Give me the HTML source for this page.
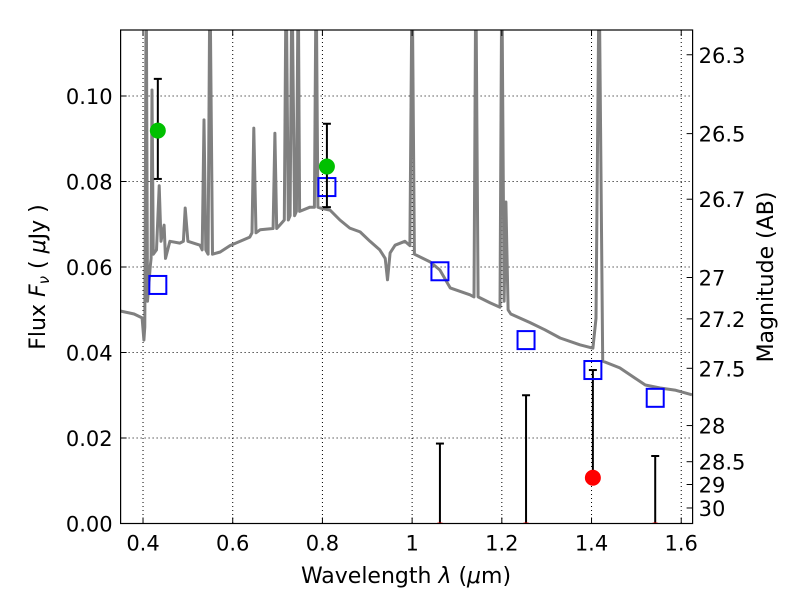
<!DOCTYPE html>
<html><head><meta charset="utf-8"><style>
html,body{margin:0;padding:0;background:#fff;}
svg text{font-family:"DejaVu Sans","Liberation Sans",sans-serif;fill:#000;}
</style></head><body>
<svg id="chart" width="800" height="600" xmlns="http://www.w3.org/2000/svg">
<rect x="0" y="0" width="800" height="600" fill="#fff"/>
<g id="grid"></g>
<g id="marks"></g>
<rect x="120.6" y="30" width="572" height="493.5" fill="none" stroke="#000" stroke-width="1.2"/>
<g id="axes"></g>
<text x="406" y="583" font-size="22" text-anchor="middle">Wavelength  <tspan font-style="italic">λ</tspan> (<tspan font-style="italic">μ</tspan>m)</text>
<text transform="translate(45,277) rotate(-90)" font-size="22" text-anchor="middle">Flux  <tspan font-style="italic">F</tspan><tspan font-style="italic" font-size="15" dy="4">ν</tspan><tspan dy="-4">  (  </tspan><tspan font-style="italic">μ</tspan>Jy )</text>
<text transform="translate(773,277) rotate(-90)" font-size="22" text-anchor="middle">Magnitude (AB)</text>
</svg>
<script>
const specWave=[0.349,0.38,0.398,0.402,0.404,0.407,0.410,0.416,0.418,0.420,0.423,0.430,0.436,0.440,0.447,0.450,0.46,0.482,0.490,0.494,0.50,0.527,0.532,0.536,0.540,0.545,0.549,0.555,0.572,0.594,0.638,0.643,0.647,0.652,0.661,0.690,0.694,0.698,0.705,0.715,0.719,0.724,0.728,0.732,0.738,0.742,0.746,0.749,0.772,0.782,0.786,0.79,0.795,0.817,0.839,0.861,0.884,0.906,0.928,0.94,0.945,0.951,0.962,0.984,0.995,1.000,1.005,1.040,1.062,1.085,1.129,1.138,1.142,1.147,1.174,1.196,1.200,1.205,1.209,1.214,1.22,1.263,1.296,1.33,1.374,1.403,1.41,1.417,1.425,1.463,1.497,1.52,1.553,1.586,1.624];
const specFlux=[0.0497,0.049,0.0481,0.0429,0.046,0.13,0.052,0.06,0.062,0.1014,0.063,0.064,0.079,0.066,0.0698,0.062,0.066,0.0656,0.066,0.0738,0.066,0.0651,0.064,0.0944,0.064,0.063,0.13,0.063,0.0635,0.065,0.067,0.068,0.0925,0.068,0.0687,0.069,0.0913,0.069,0.0698,0.071,0.13,0.071,0.072,0.13,0.072,0.073,0.13,0.073,0.074,0.074,0.13,0.074,0.0738,0.0733,0.071,0.0691,0.0682,0.066,0.064,0.062,0.057,0.0633,0.0651,0.066,0.065,0.13,0.063,0.0612,0.0593,0.0551,0.0535,0.053,0.13,0.053,0.0516,0.0506,0.13,0.052,0.0752,0.05,0.049,0.047,0.0453,0.0434,0.0418,0.041,0.048,0.13,0.038,0.0364,0.034,0.0324,0.0317,0.0312,0.0301];
const detWave=[0.433,0.810];
const detFlux=[0.0919,0.0835];
const detErrLo=[0.0806,0.074];
const detErrHi=[0.104,0.0935];
const modelWave=[0.433,0.810,1.062,1.254,1.403,1.542];
const modelFlux=[0.0558,0.0787,0.059,0.0429,0.0359,0.0294];
const limWave=[1.062,1.254,1.403,1.542];
const limFlux=[-0.0016,-0.0016,0.0107,-0.0016];
const limTop=[0.0187,0.030,0.0359,0.0158];
const xTicks=[0.4,0.6,0.8,1.0,1.2,1.4,1.6];
const xTickLabels=["0.4","0.6","0.8","1","1.2","1.4","1.6"];
const yTicks=[0,0.02,0.04,0.06,0.08,0.10];
const yTickLabels=["0.00","0.02","0.04","0.06","0.08","0.10"];
const magTicks=[26.3,26.5,26.7,27,27.2,27.5,28,28.5,29,30];

const X0=120.6,XMIN=0.35,XS=448.5,Y0=523.5,YS=4275,YTOP=30,XR=692.6;
const sx=v=>X0+(v-XMIN)*XS;
const sy=v=>Y0-v*YS;
const NS="http://www.w3.org/2000/svg";
function mk(tag,attrs,parent){const e=document.createElementNS(NS,tag);for(const k in attrs)e.setAttribute(k,attrs[k]);parent.appendChild(e);return e;}
const grid=document.getElementById('grid'),marks=document.getElementById('marks'),axes=document.getElementById('axes');

xTicks.forEach((t,i)=>{
  const x=sx(t);
  const g=mk('line',{x1:x,x2:x,y1:YTOP,y2:Y0,stroke:'#000','stroke-width':1,'stroke-dasharray':'1,3'},grid);
  
  
  mk('line',{x1:x,x2:x,y1:Y0,y2:Y0-6,stroke:'#000'},axes);
  mk('line',{x1:x,x2:x,y1:YTOP,y2:YTOP+6,stroke:'#000'},axes);
  const tx=mk('text',{x:x,y:Y0+27,'font-size':21,'text-anchor':'middle'},axes);
  tx.textContent=xTickLabels[i];
  
  
});
yTicks.forEach((t,i)=>{
  const y=sy(t);
  const g=mk('line',{x1:X0,x2:XR,y1:y,y2:y,stroke:'#000','stroke-width':1,'stroke-dasharray':'1,3'},grid);
  
  
  mk('line',{x1:X0,x2:X0+6,y1:y,y2:y,stroke:'#000'},axes);
  const tx=mk('text',{x:X0-8,y:y+8,'font-size':21,'text-anchor':'end'},axes);
  tx.textContent=yTickLabels[i];
  
  
});
magTicks.forEach(m=>{
  const f=Math.pow(10,(23.9-m)/2.5);
  const y=sy(f);
  mk('line',{x1:XR,x2:XR-6,y1:y,y2:y,stroke:'#000'},axes);
  const tx=mk('text',{x:XR+6,y:y+8,'font-size':21},axes);
  tx.textContent=String(m);
  
  
});

const cp=mk('clipPath',{id:'clip'},document.getElementById('chart'));
mk('rect',{x:X0,y:YTOP,width:XR-X0,height:Y0-YTOP},cp);
const clipG=mk('g',{'clip-path':'url(#clip)'},marks);

const d=specWave.map((w,i)=>(i?'L':'M')+sx(w).toFixed(1)+','+sy(specFlux[i]).toFixed(1)).join(' ');
const sp=mk('path',{d:d,fill:'none',stroke:'#808080','stroke-width':3,'stroke-linejoin':'round'},clipG);



limWave.forEach((w,i)=>{
  const x=sx(w);
  const l=mk('line',{x1:x,x2:x,y1:sy(limFlux[i]),y2:sy(limTop[i]),stroke:'#000','stroke-width':2},clipG);
  
  
  mk('line',{x1:x-4,x2:x+4,y1:sy(limTop[i]),y2:sy(limTop[i]),stroke:'#000','stroke-width':2},clipG);
  const c=mk('circle',{cx:x,cy:sy(limFlux[i]),r:7.5,fill:'#f00',stroke:'#f00'},clipG);
  
  
});
modelWave.forEach((w,i)=>{
  const r=mk('rect',{x:sx(w)-8.5,y:sy(modelFlux[i])-9,width:17,height:18,fill:'none',stroke:'#00f','stroke-width':2},clipG);
  
  
});
detWave.forEach((w,i)=>{
  const x=sx(w);
  const l=mk('line',{x1:x,x2:x,y1:sy(detErrLo[i]),y2:sy(detErrHi[i]),stroke:'#000','stroke-width':2},clipG);
  
  
  mk('line',{x1:x-4,x2:x+4,y1:sy(detErrLo[i]),y2:sy(detErrLo[i]),stroke:'#000','stroke-width':2},clipG);
  mk('line',{x1:x-4,x2:x+4,y1:sy(detErrHi[i]),y2:sy(detErrHi[i]),stroke:'#000','stroke-width':2},clipG);
  const c=mk('circle',{cx:x,cy:sy(detFlux[i]),r:7.5,fill:'#00c000',stroke:'#00c000'},clipG);
  
  
});
</script>
</body></html>
